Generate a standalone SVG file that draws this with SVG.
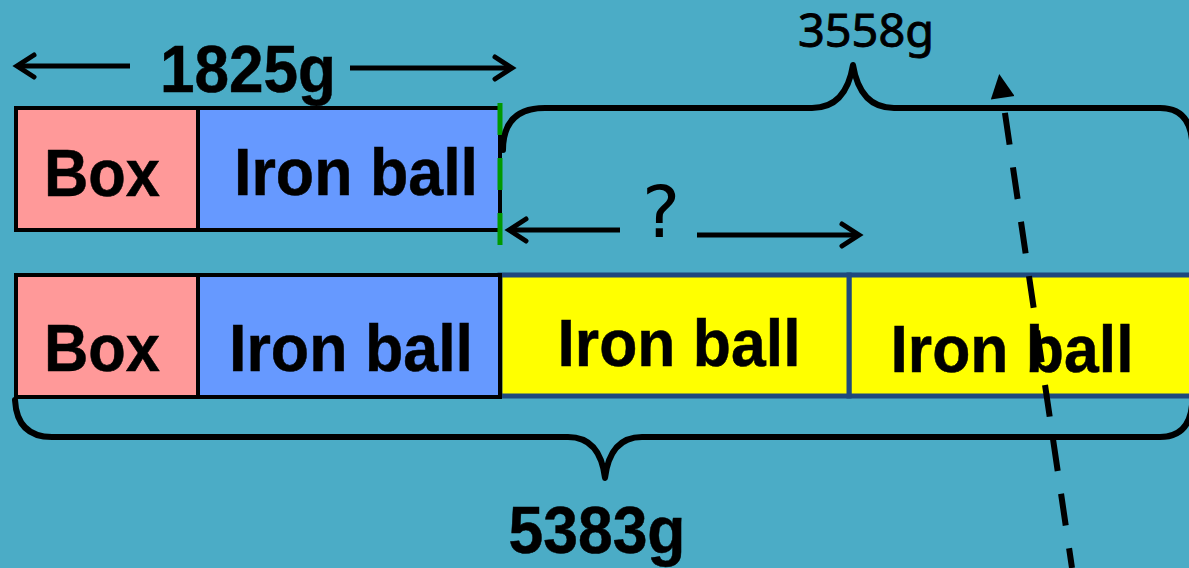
<svg xmlns="http://www.w3.org/2000/svg" width="1189" height="568" viewBox="0 0 1189 568">
  <defs>
    <style>
      .lbl { font-family: "Liberation Sans", Arial, sans-serif; font-weight: bold; font-size: 66px; fill: #000; stroke: #000; stroke-width: 0.5; text-anchor: middle; }
      .box { fill: #FF9999; stroke: #000; stroke-width: 4; }
      .iron { fill: #6699FF; stroke: #000; stroke-width: 4; }
      .extra { fill: #FFFF00; stroke: #1F497D; stroke-width: 5; }
      .ln { fill: none; stroke: #000; stroke-width: 5; stroke-linecap: butt; }
      .head { fill: none; stroke: #000; stroke-width: 5; stroke-linecap: round; stroke-linejoin: miter; }
      .brace { fill: none; stroke: #000; stroke-width: 6; stroke-linecap: round; stroke-linejoin: round; }
    </style>
    <marker id="tri" viewBox="0 0 10 10" refX="2" refY="5" markerWidth="4.2" markerHeight="4" orient="auto" markerUnits="strokeWidth">
      <path d="M0,0 L10,5 L0,10 z" fill="#000"/>
    </marker>
  </defs>

  <rect x="0" y="0" width="1189" height="568" fill="#4BACC6"/>

  <!-- top bar: box + one ball -->
  <g id="top-box">
    <rect class="box" x="16" y="108" width="182" height="122"/>
    <text class="lbl" x="102" y="196" textLength="116" lengthAdjust="spacingAndGlyphs">Box</text>
  </g>
  <g id="top-ball">
    <rect class="iron" x="198" y="108" width="302" height="122"/>
    <text class="lbl" x="356" y="195" textLength="244" lengthAdjust="spacingAndGlyphs">Iron ball</text>
  </g>

  <!-- bottom bar: box + three balls -->
  <g id="bottom-extra-2">
    <rect class="extra" x="849" y="275" width="350" height="121"/>
    <text class="lbl" x="1012" y="372" textLength="243" lengthAdjust="spacingAndGlyphs">Iron ball</text>
  </g>
  <g id="bottom-extra-1">
    <rect class="extra" x="500" y="275" width="349" height="121"/>
    <text class="lbl" x="679" y="366" textLength="243" lengthAdjust="spacingAndGlyphs">Iron ball</text>
  </g>
  <g id="bottom-box">
    <rect class="box" x="16" y="275" width="182" height="122"/>
    <text class="lbl" x="102" y="371" textLength="116" lengthAdjust="spacingAndGlyphs">Box</text>
  </g>
  <g id="bottom-ball">
    <rect class="iron" x="198" y="275" width="302" height="122"/>
    <text class="lbl" x="351" y="371" textLength="244" lengthAdjust="spacingAndGlyphs">Iron ball</text>
  </g>

  <!-- marker line at the end of the first ball -->
  <g id="split-line">
    <line x1="500" y1="103" x2="500" y2="248" stroke="#009900" stroke-width="5" stroke-dasharray="32 23"/>
  </g>

  <g id="connectors">
    <!-- 1825g span -->
    <line class="ln" x1="17" y1="66" x2="130" y2="66"/>
    <polyline class="head" points="34,55 17,66 34,77"/>
    <line class="ln" x1="350" y1="68" x2="512" y2="68"/>
    <polyline class="head" points="495,57 512,68 495,79"/>

    <!-- unknown span -->
    <line class="ln" x1="509" y1="230" x2="620" y2="230"/>
    <polyline class="head" points="526,219 509,230 526,241"/>
    <line class="ln" x1="697" y1="235" x2="859" y2="235"/>
    <polyline class="head" points="842,224 859,235 842,246"/>

    <!-- brace over the remainder -->
    <path class="brace" d="M503,150 Q503,108 545,108 L812,108 Q846,108 853,65 Q860,108 894,108 L1160,108 Q1189,108 1192,140"/>

    <!-- brace under the whole bottom bar -->
    <path class="brace" d="M15,400 Q17,437 52,437 L568,437 Q600,437 605,478 Q610,437 642,437 L1160,437 Q1189,437 1192,405"/>

    <!-- dashed pointer -->
    <line x1="1072" y1="568" x2="1002" y2="93" stroke="#000" stroke-width="6" stroke-dasharray="32 23" stroke-dashoffset="12" marker-end="url(#tri)"/>
  </g>

  <g id="labels">
    <text class="lbl" x="248" y="92" textLength="176" lengthAdjust="spacingAndGlyphs">1825g</text>
    <text class="lbl" x="597" y="553" textLength="177" lengthAdjust="spacingAndGlyphs">5383g</text>
    <text x="866" y="47" font-family="'Noto Sans', 'DejaVu Sans', sans-serif" font-size="46" text-anchor="middle" fill="#000" stroke="#000" stroke-width="0.9" textLength="136" lengthAdjust="spacingAndGlyphs">3558g</text>
    <text x="661" y="237" font-family="'DejaVu Sans', sans-serif" font-size="72" text-anchor="middle" fill="#000">?</text>
  </g>
</svg>
